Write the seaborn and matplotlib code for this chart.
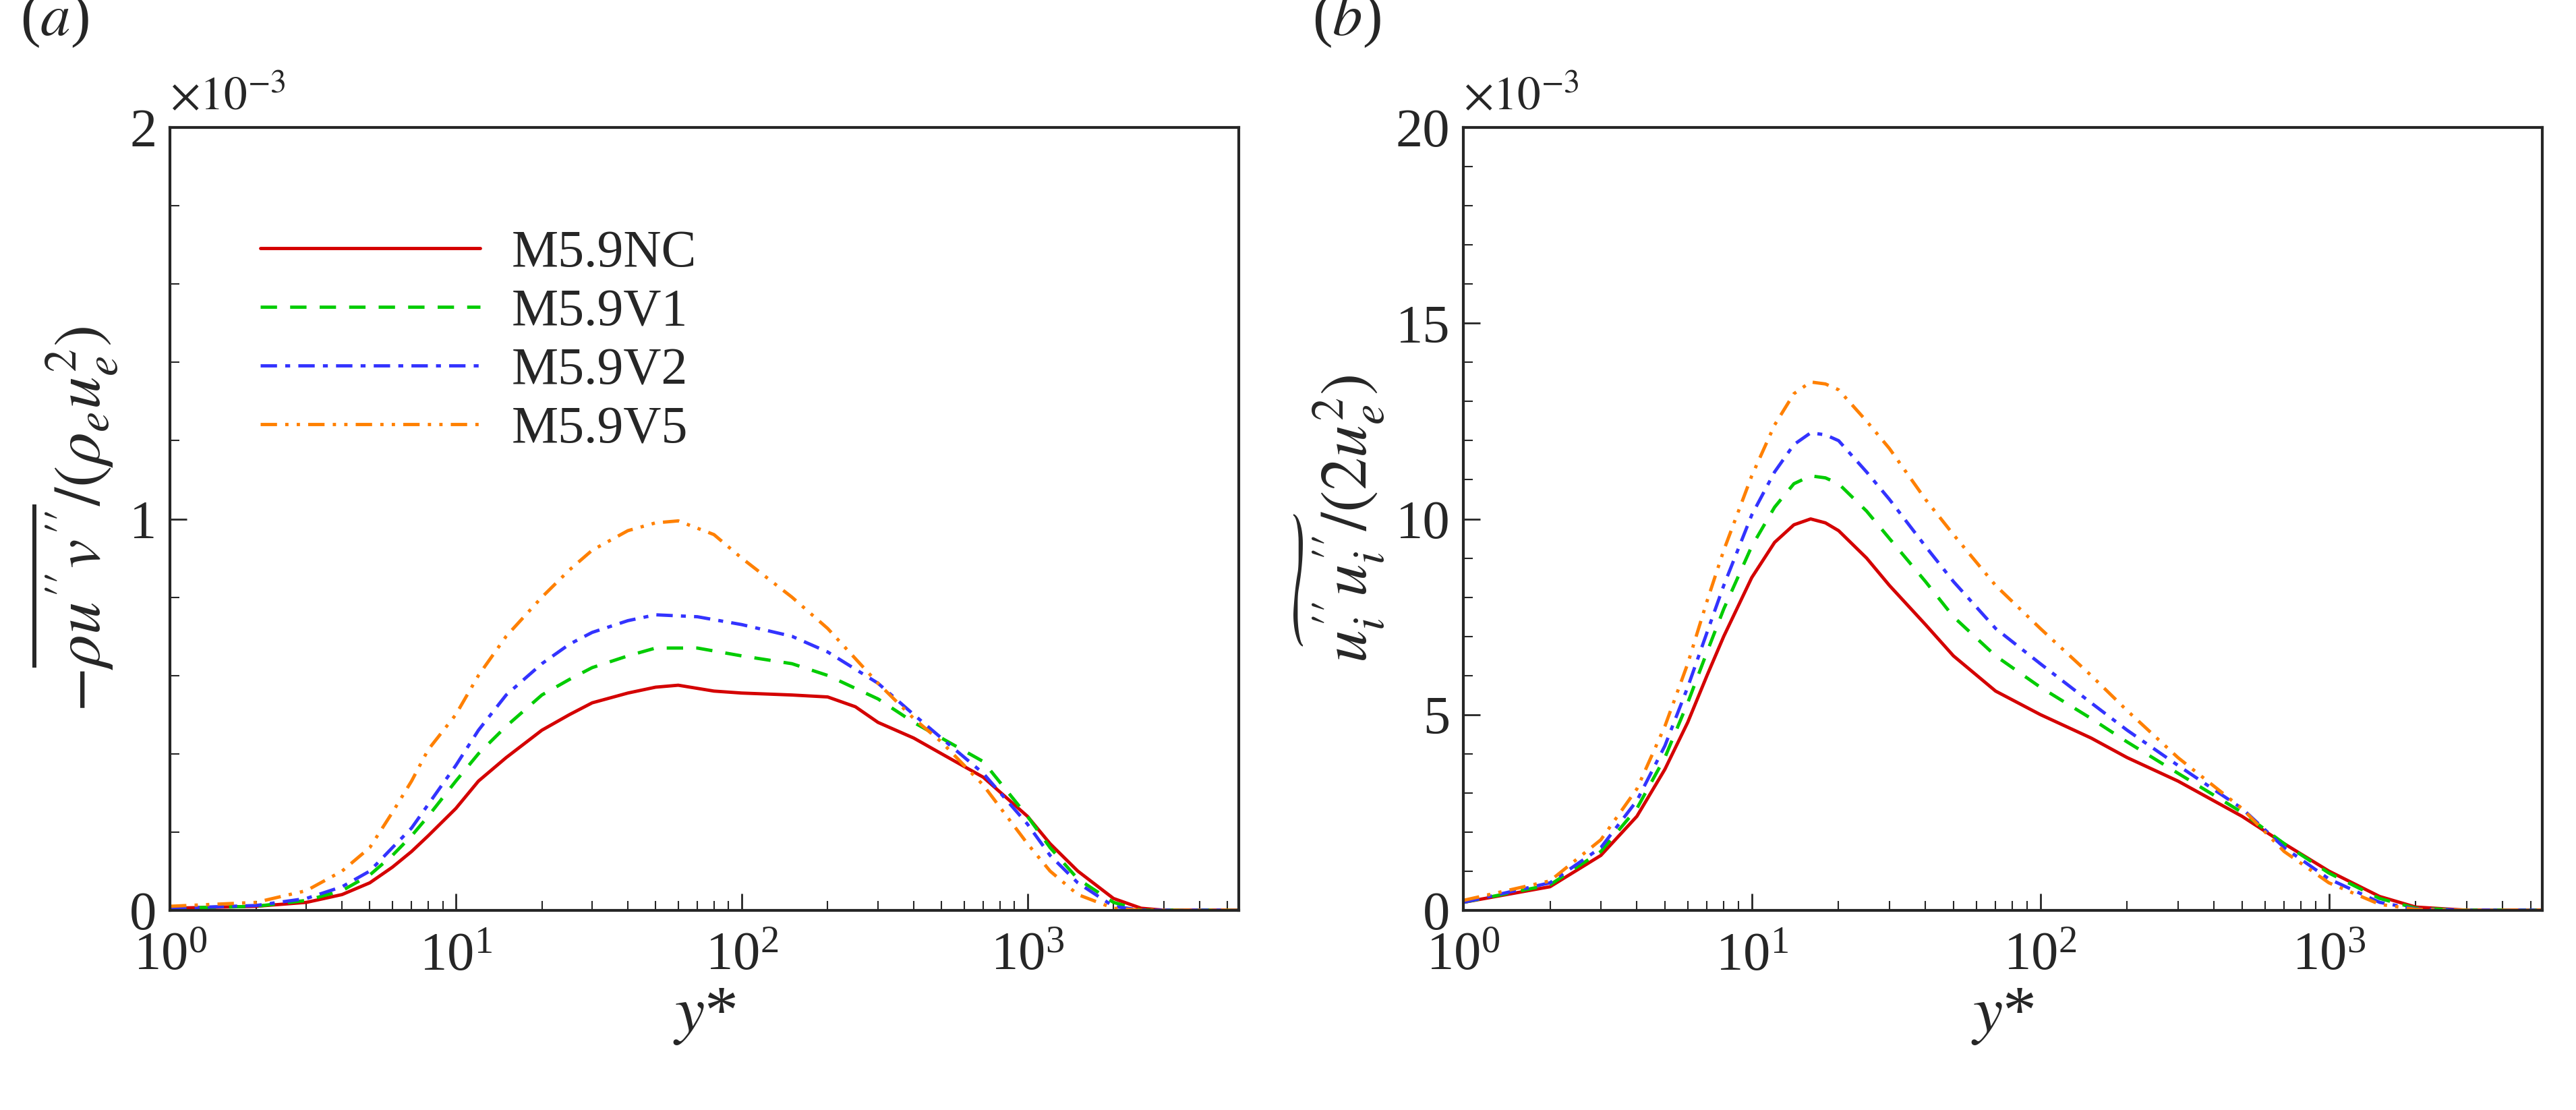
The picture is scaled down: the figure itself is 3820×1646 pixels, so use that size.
import numpy as np
import pandas as pd
import matplotlib
matplotlib.use("Agg")
import matplotlib.pyplot as plt
import seaborn as sns
from matplotlib.ticker import LogLocator, MultipleLocator, NullFormatter

sns.set_theme(style="ticks")
plt.rcParams['font.family'] = ['Liberation Serif', 'DejaVu Serif']
plt.rcParams['mathtext.fontset'] = 'stix'

cases = ['M5.9NC', 'M5.9V1', 'M5.9V2', 'M5.9V5']
colors = ['#d40000', '#00cc00', '#3333ff', '#ff8000']
dashes = ['-', (0, (5, 4)), (0, (5, 2.5, 1.5, 2.5)), (0, (5, 2.5, 1, 2.5, 1, 2.5))]

# panel (a): -rho u''v'' / (rho_e u_e^2), x1e-3
ya_nc = [1, 2, 3, 4, 5, 6, 7, 8, 10, 12, 15, 20, 25, 30, 40, 50, 60, 80, 100, 150, 200, 250, 300, 400, 500, 700, 1000, 1200, 1500, 2000, 2500, 3000, 5500]
va_nc = [0.005, 0.01, 0.02, 0.04, 0.07, 0.11, 0.15, 0.19, 0.26, 0.33, 0.39, 0.46, 0.50, 0.53, 0.555, 0.57, 0.575, 0.56, 0.555, 0.55, 0.545, 0.52, 0.48, 0.44, 0.40, 0.34, 0.24, 0.17, 0.10, 0.03, 0.005, 0, 0]
ya_v1 = [1, 2, 3, 4, 5, 6, 7, 8, 10, 12, 15, 20, 25, 30, 40, 50, 70, 100, 150, 200, 300, 400, 500, 700, 1000, 1200, 1500, 2000, 2500, 5500]
va_v1 = [0.005, 0.01, 0.025, 0.05, 0.09, 0.14, 0.19, 0.24, 0.33, 0.40, 0.47, 0.55, 0.59, 0.62, 0.65, 0.67, 0.67, 0.65, 0.63, 0.60, 0.54, 0.48, 0.44, 0.38, 0.24, 0.16, 0.08, 0.02, 0, 0]
ya_v2 = [1, 2, 3, 4, 5, 6, 7, 8, 10, 12, 15, 20, 25, 30, 40, 50, 70, 100, 150, 200, 300, 400, 500, 700, 1000, 1200, 1500, 2000, 2500, 5500]
va_v2 = [0.005, 0.012, 0.03, 0.06, 0.10, 0.16, 0.21, 0.27, 0.37, 0.46, 0.55, 0.63, 0.68, 0.71, 0.74, 0.755, 0.75, 0.73, 0.70, 0.66, 0.58, 0.50, 0.44, 0.35, 0.22, 0.14, 0.07, 0.01, 0, 0]
ya_v5 = [1, 2, 3, 4, 5, 6, 7, 8, 10, 12, 15, 20, 25, 30, 40, 50, 60, 80, 100, 150, 200, 300, 400, 500, 700, 1000, 1200, 1500, 2000, 2500, 5500]
va_v5 = [0.01, 0.02, 0.05, 0.10, 0.16, 0.25, 0.33, 0.41, 0.50, 0.60, 0.70, 0.80, 0.87, 0.92, 0.97, 0.99, 0.995, 0.96, 0.90, 0.80, 0.72, 0.58, 0.49, 0.43, 0.32, 0.17, 0.10, 0.04, 0.005, 0, 0]

# panel (b): u_i''u_i'' / (2 u_e^2), x1e-3
yb = [1, 2, 3, 4, 5, 6, 7, 8, 10, 12, 14, 16, 18, 20, 25, 30, 40, 50, 70, 100, 150, 200, 300, 500, 700, 1000, 1500, 2000, 3000, 5500]
vb_nc = [0.2, 0.6, 1.4, 2.4, 3.6, 4.8, 6.0, 7.0, 8.5, 9.4, 9.85, 10.0, 9.9, 9.7, 9.0, 8.3, 7.3, 6.5, 5.6, 5.0, 4.4, 3.9, 3.3, 2.4, 1.7, 1.0, 0.35, 0.08, 0, 0]
vb_v1 = [0.2, 0.65, 1.5, 2.6, 3.9, 5.3, 6.6, 7.7, 9.3, 10.3, 10.9, 11.1, 11.05, 10.9, 10.2, 9.5, 8.4, 7.5, 6.5, 5.7, 4.9, 4.3, 3.5, 2.5, 1.7, 0.95, 0.3, 0.05, 0, 0]
vb_v2 = [0.2, 0.7, 1.6, 2.8, 4.2, 5.7, 7.1, 8.3, 10.1, 11.2, 11.9, 12.2, 12.15, 12.0, 11.2, 10.5, 9.3, 8.4, 7.2, 6.3, 5.3, 4.6, 3.7, 2.6, 1.6, 0.8, 0.2, 0.03, 0, 0]
vb_v5 = [0.25, 0.75, 1.8, 3.1, 4.7, 6.3, 7.9, 9.2, 11.1, 12.4, 13.2, 13.5, 13.45, 13.3, 12.5, 11.8, 10.5, 9.6, 8.3, 7.2, 6.0, 5.1, 3.9, 2.6, 1.5, 0.7, 0.15, 0.02, 0, 0]

fig = plt.figure(figsize=(38.2, 16.46), dpi=100)
axa = fig.add_axes([0.066, 0.18, 0.415, 0.705])
axb = fig.add_axes([0.568, 0.18, 0.419, 0.705])

series_a = [(ya_nc, va_nc), (ya_v1, va_v1), (ya_v2, va_v2), (ya_v5, va_v5)]
series_b = [(yb, vb_nc), (yb, vb_v1), (yb, vb_v2), (yb, vb_v5)]

for ax, series in [(axa, series_a), (axb, series_b)]:
    for name, col, ls, (x, y) in zip(cases, colors, dashes, series):
        sns.lineplot(x=x, y=y, ax=ax, color=col, linestyle=ls, linewidth=3.5, label=name)
    ax.set_xscale('log')
    ax.set_xlim(1, 5500)
    ax.xaxis.set_major_locator(LogLocator(base=10, numticks=10))
    ax.xaxis.set_minor_locator(LogLocator(base=10, subs=np.arange(2, 10), numticks=50))
    ax.xaxis.set_minor_formatter(NullFormatter())
    ax.tick_params(which='both', direction='in', top=False, right=False, labelsize=58)
    ax.tick_params(which='major', length=18, width=2)
    ax.tick_params(which='minor', length=10, width=1.5)
    ax.tick_params(axis='x', pad=24)
    ax.tick_params(axis='y', pad=14)
    for s in ax.spines.values():
        s.set_linewidth(3)
    ax.set_xlabel('$y$*', fontsize=72, labelpad=4)

axa.set_ylim(0, 2)
axa.yaxis.set_major_locator(MultipleLocator(1))
axa.yaxis.set_minor_locator(MultipleLocator(0.2))
axa.set_ylabel(r"$-\overline{\rho u^{\prime\prime} v^{\prime\prime}}/(\rho_e u_e^2)$", fontsize=70, labelpad=10)
axa.legend(loc='upper left', bbox_to_anchor=(0.04, 0.93), frameon=False, fontsize=56,
           handlelength=4.2, labelspacing=0.2, handletextpad=0.6)

axb.set_ylim(0, 20)
axb.yaxis.set_major_locator(MultipleLocator(5))
axb.yaxis.set_minor_locator(MultipleLocator(1))
axb.set_ylabel(r"$\widetilde{u_i^{\prime\prime} u_i^{\prime\prime}}/(2u_e^2)$", fontsize=70, labelpad=10)
axb.get_legend().remove()

for ax, tag in [(axa, 'a'), (axb, 'b')]:
    ax.text(0.0, 1.01, r'$\times 10^{-3}$', transform=ax.transAxes, fontsize=50, va='bottom')
    ax.text(-0.14, 1.1, '($' + tag + '$)', transform=ax.transAxes, fontsize=64, va='bottom')

fig.savefig('out.png', dpi=100)
